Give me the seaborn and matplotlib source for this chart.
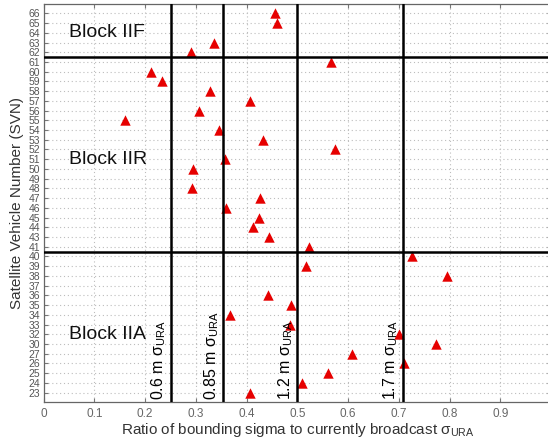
import matplotlib
matplotlib.use("Agg")
import matplotlib.pyplot as plt
import seaborn as sns
import pandas as pd

# ---- data ----
svn_axis = [23, 24, 25, 26, 27, 30, 32, 33, 34, 35, 36, 37, 38, 39, 40, 41,
            43, 44, 45, 46, 47, 48, 49, 50, 51, 52, 53, 54, 55, 56, 57, 58,
            59, 60, 61, 62, 63, 64, 65, 66]
svn_pts = [66, 65, 63, 62, 61, 60, 59, 58, 57, 56, 55, 54, 53, 52, 51, 50,
           48, 47, 46, 45, 44, 43, 41, 40, 39, 38, 36, 35, 34, 33, 32, 30,
           27, 26, 25, 24, 23]
ratio = [0.455, 0.459, 0.335, 0.290, 0.567, 0.211, 0.234, 0.327, 0.406, 0.306,
         0.160, 0.346, 0.432, 0.574, 0.357, 0.294, 0.293, 0.426, 0.360, 0.424,
         0.413, 0.445, 0.523, 0.726, 0.516, 0.794, 0.443, 0.488, 0.367, 0.486,
         0.701, 0.774, 0.608, 0.710, 0.561, 0.510, 0.406]
sigma_lines = [0.6, 0.85, 1.2, 1.7]      # metres
current_ura = 2.4                          # metres
block_names = ["Block IIF", "Block IIR", "Block IIA"]
block_label_svn = [64, 51, 32]
block_boundaries = [(61, 62), (40, 41)]
x_ticks = [0, 0.1, 0.2, 0.3, 0.4, 0.5, 0.6, 0.7, 0.8, 0.9, 1.0]
x_ticklabels = ["0", "0.1", "0.2", "0.3", "0.4", "0.5", "0.6", "0.7", "0.8", "0.9", ""]

sns.set_theme(style="white")
plt.rcParams["font.family"] = ["Liberation Sans", "DejaVu Sans"]
plt.rcParams["mathtext.fontset"] = "custom"
plt.rcParams["mathtext.rm"] = "Liberation Sans"
plt.rcParams["mathtext.it"] = "Liberation Sans:italic"
plt.rcParams["mathtext.default"] = "regular"

order = [str(s) for s in sorted(svn_axis, reverse=True)]
df = pd.DataFrame({"ratio": ratio, "svn": [str(s) for s in svn_pts]})

fig = plt.figure(figsize=(5.48, 4.42), dpi=100)
ax = fig.add_axes([0.0797, 0.0898, 0.926, 0.9011])
ax.set_axisbelow(True)

sns.stripplot(data=df, x="ratio", y="svn", order=order, orient="h",
              jitter=False, marker="^", size=7.5, color="#e60000",
              linewidth=0, ax=ax, zorder=3)

n = len(order)
ax.set_ylim(n, -0.96)
ax.set_xlim(0, 1.0)
ax.set_xticks(x_ticks)
ax.set_xticklabels(x_ticklabels)
ax.grid(True, axis="both", linestyle=(0, (1, 2.5)), color="#bdbdbd", linewidth=0.8)

# block separators
for lo, hi in block_boundaries:
    ypos = (order.index(str(lo)) + order.index(str(hi))) / 2
    ax.axhline(ypos, color="black", linewidth=1.8, zorder=4)

# sigma lines
for s in sigma_lines:
    xv = s / current_ura
    ax.axvline(xv, color="black", linewidth=1.8, zorder=4)
    ax.annotate(f"{s:g} m $\\sigma_{{URA}}$", xy=(xv, 0.0), xycoords=("data", "axes fraction"),
                xytext=(-2, 2), textcoords="offset points", rotation=90,
                ha="right", va="bottom", fontsize=11.5, color="black", zorder=5)

# block labels
for name, svn in zip(block_names, block_label_svn):
    ax.text(0.049, order.index(str(svn)), name, fontsize=14, color="#111111",
            ha="left", va="center", zorder=5)

ax.set_xlabel("Ratio of bounding sigma to currently broadcast $\\sigma_{URA}$",
              fontsize=11, color="#333333", labelpad=0.5)
ax.set_ylabel("Satellite Vehicle Number (SVN)", fontsize=11, color="#333333", labelpad=3)

ax.tick_params(axis="y", which="both", direction="in", length=3, width=0.8,
               left=True, right=True, labelsize=7.5, labelcolor="#555555",
               color="#777777", pad=2.5)
ax.tick_params(axis="x", which="both", direction="in", length=3, width=0.8,
               bottom=True, top=True, labelsize=8.5, labelcolor="#666666",
               color="#777777", pad=4)
for sp in ax.spines.values():
    sp.set_color("#666666")
    sp.set_linewidth(0.9)

fig.savefig("out.png", dpi=100)
